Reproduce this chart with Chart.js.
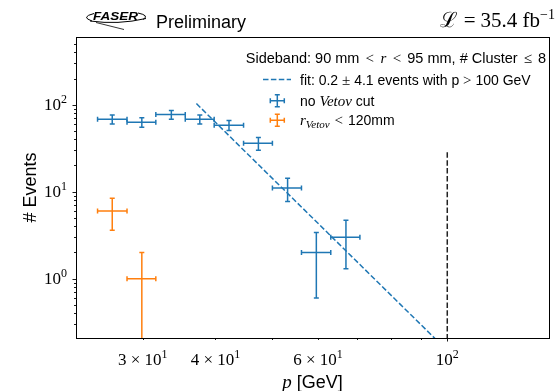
<!DOCTYPE html>
<html>
<head>
<meta charset="utf-8">
<script src="https://cdn.jsdelivr.net/npm/chart.js@4.4.1/dist/chart.umd.min.js"></script>
<style>
  html, body { margin: 0; padding: 0; background: #fff; }
  canvas { display: block; }
</style>
</head>
<body>
<canvas id="sidebandChart" width="557" height="391"></canvas>
<script>
// Momentum bins (GeV)
const binLow    = [25.1, 28.2, 31.6, 35.5, 39.8, 44.7, 50.1, 56.2, 63.1];
const binHigh   = [28.2, 31.6, 35.5, 39.8, 44.7, 50.1, 56.2, 63.1, 70.8];
const binCenter = [26.6, 29.9, 33.6, 37.6, 42.2, 47.4, 53.2, 59.6, 67.0];

// Events without the veto cut
const countsNoCut = [68, 63, 77, 68, 58, 36, 11, 2, 3];
const errNoCut    = [8.2, 7.9, 8.8, 8.2, 7.6, 6.0, 3.3, 1.4, 1.7];

// Events with r_Veto < 120 mm (first two bins only)
const countsRCut = [6, 1];
const errRCut    = [2.4, 1.0];

// Fit line (end points)
const fitP = [37.1, 100];
const fitN = [103, 0.149];

// p = 100 GeV marker line
const cutP = [100, 100];
const cutN = [0.2, 30];

// Tick labels: [mantissa text, exponent]
const xTickValues = [30, 40, 60, 100];
const xTickLabels = [["3 \u00d7 10", "1"], ["4 \u00d7 10", "1"], ["6 \u00d7 10", "1"], ["10", "2"]];
const yTickValues = [1, 10, 100];
const yTickLabels = [["10", "0"], ["10", "1"], ["10", "2"]];

const BLUE = "#1f77b4";
const ORANGE = "#ff7f0e";
const SANS = "'Liberation Sans', Arial, sans-serif";
const SERIF = "'Liberation Serif', 'DejaVu Serif', serif";

function errorPoints(idx, counts, errs) {
    return counts.map((n, i) => ({
        x: binCenter[idx[i]], y: n,
        xMin: binLow[idx[i]], xMax: binHigh[idx[i]],
        yMin: n - errs[i], yMax: n + errs[i]
    }));
}

// Write a row of text pieces with different fonts. piece = [text, font, dy, extra space on both sides]
function drawRuns(ctx, runs, x, y, align) {
    let w = 0;
    runs.forEach(r => { ctx.font = r[1]; w += ctx.measureText(r[0]).width + 2 * (r[3] || 0); });
    let cx = x;
    if (align === "right") cx = x - w;
    if (align === "center") cx = x - w / 2;
    ctx.textAlign = "left";
    ctx.textBaseline = "alphabetic";
    runs.forEach(r => {
        ctx.font = r[1];
        cx += r[3] || 0;
        ctx.fillText(r[0], cx, y + (r[2] || 0));
        cx += ctx.measureText(r[0]).width + (r[3] || 0);
    });
}

// Cross with caps, used for data points and legend handles
function drawCross(ctx, x, y, x0, x1, y0, y1, cap, bottomCap) {
    ctx.beginPath();
    ctx.moveTo(x0, y); ctx.lineTo(x1, y);
    ctx.moveTo(x, y0); ctx.lineTo(x, y1);
    ctx.moveTo(x0, y - cap); ctx.lineTo(x0, y + cap);
    ctx.moveTo(x1, y - cap); ctx.lineTo(x1, y + cap);
    ctx.moveTo(x - cap, y1); ctx.lineTo(x + cap, y1);
    if (bottomCap) { ctx.moveTo(x - cap, y0); ctx.lineTo(x + cap, y0); }
    ctx.stroke();
}

const errorBars = {
    id: "errorBars",
    afterDatasetsDraw(chart) {
        const ctx = chart.ctx, xs = chart.scales.x, ys = chart.scales.y, a = chart.chartArea;
        ctx.save();
        ctx.beginPath();
        ctx.rect(a.left, a.top, a.right - a.left, a.bottom - a.top);
        ctx.clip();
        chart.data.datasets.forEach(ds => {
            if (!ds.errorBars) return;
            ctx.strokeStyle = ds.borderColor;
            ctx.lineWidth = 1.5;
            ds.data.forEach(p => {
                const px = xs.getPixelForValue(p.x), py = ys.getPixelForValue(p.y);
                const lowOk = p.yMin > ys.min;
                const y0 = lowOk ? ys.getPixelForValue(p.yMin) : a.bottom + 2;
                drawCross(ctx, px, py,
                    xs.getPixelForValue(p.xMin), xs.getPixelForValue(p.xMax),
                    y0, ys.getPixelForValue(p.yMax), 2.5, lowOk);
            });
        });
        ctx.restore();
    }
};

// Frame, tick marks and tick labels
const axesDecor = {
    id: "axesDecor",
    afterDraw(chart) {
        const ctx = chart.ctx, xs = chart.scales.x, ys = chart.scales.y, a = chart.chartArea;
        ctx.save();
        ctx.strokeStyle = "#000";
        ctx.lineWidth = 1;
        ctx.beginPath();
        ctx.moveTo(a.left, a.top + 0.5); ctx.lineTo(a.right + 0.5, a.top + 0.5);
        ctx.moveTo(a.right + 0.5, a.top); ctx.lineTo(a.right + 0.5, a.bottom);
        ctx.stroke();

        ctx.lineWidth = 0.9;
        ctx.beginPath();
        for (let e = 0; e <= 3; e++) {
            for (let k = 1; k <= 9; k++) {
                const v = k * Math.pow(10, e);
                const len = k === 1 ? 3.5 : 2;
                if (v > xs.min && v < xs.max) {
                    const px = Math.round(xs.getPixelForValue(v)) + 0.5;
                    ctx.moveTo(px, a.bottom); ctx.lineTo(px, a.bottom + len);
                }
            }
        }
        for (let e = -1; e <= 3; e++) {
            for (let k = 1; k <= 9; k++) {
                const v = k * Math.pow(10, e);
                const len = k === 1 ? 3.5 : 2;
                if (v > ys.min && v < ys.max) {
                    const py = Math.round(ys.getPixelForValue(v)) + 0.5;
                    ctx.moveTo(a.left, py); ctx.lineTo(a.left - len, py);
                }
            }
        }
        ctx.stroke();

        ctx.fillStyle = "#000";
        xTickValues.forEach((v, i) => {
            const px = xs.getPixelForValue(v);
            drawRuns(ctx, [[xTickLabels[i][0], "17px " + SERIF], [xTickLabels[i][1], "12px " + SERIF, -7]],
                px, a.bottom + 27, "center");
        });
        yTickValues.forEach((v, i) => {
            const py = ys.getPixelForValue(v);
            drawRuns(ctx, [[yTickLabels[i][0], "17px " + SERIF], [yTickLabels[i][1], "12px " + SERIF, -7]],
                a.left - 9, py + 5, "right");
        });

        // axis titles
        drawRuns(ctx, [["p", "italic 19px " + SERIF], [" [GeV]", "18px " + SANS]],
            (a.left + a.right) / 2, 388, "center");
        ctx.save();
        ctx.translate(36, (a.top + a.bottom) / 2);
        ctx.rotate(-Math.PI / 2);
        drawRuns(ctx, [["# Events", "18px " + SANS]], 0, 0, "center");
        ctx.restore();
        ctx.restore();
    }
};

// Legend in the upper right corner of the plot
const legendBox = {
    id: "legendBox",
    afterDraw(chart) {
        const ctx = chart.ctx;
        const ft = "14.5px " + SANS;
        const f = "14px " + SANS, m = "15px " + SERIF, mi = "italic 15px " + SERIF;
        ctx.save();
        ctx.fillStyle = "#000";
        drawRuns(ctx, [["Sideband: 90 mm ", ft], ["<", m, 0, 2], [" ", ft], ["r", mi, 0, 0.5], [" ", ft], ["<", m, 0, 2],
            [" 95 mm, # Cluster ", ft], ["\u2264", m, 0, 2], [" 8", ft]], 546, 62.5, "right");

        // fit handle
        ctx.strokeStyle = BLUE;
        ctx.lineWidth = 1.5;
        ctx.setLineDash([5.5, 2.4]);
        ctx.beginPath(); ctx.moveTo(263, 79.5); ctx.lineTo(291, 79.5); ctx.stroke();
        ctx.setLineDash([]);
        drawRuns(ctx, [["fit: 0.2 ", f], ["\u00b1", m], [" 4.1 events with p ", f], [">", m], [" 100 GeV", f]],
            300, 84.5, "left");

        // error bar handles
        drawCross(ctx, 277.3, 100.7, 270.3, 284.3, 106.7, 94.7, 2.5, true);
        drawRuns(ctx, [["no ", f], ["Veto\u03bd", mi], [" cut", f]], 300, 105.5, "left");
        ctx.strokeStyle = ORANGE;
        drawCross(ctx, 277.3, 120.3, 270.3, 284.3, 126.3, 114.3, 2.5, true);
        drawRuns(ctx, [["r", mi], ["Veto\u03bd", "italic 11px " + SERIF, 3], [" ", f], ["<", m, 0, 1], [" 120mm", f]],
            300, 124.5, "left");
        ctx.restore();
    }
};

// Header: experiment logo, "Preliminary" and luminosity
const header = {
    id: "header",
    afterDraw(chart) {
        const ctx = chart.ctx;
        ctx.save();
        ctx.fillStyle = "#000";
        ctx.strokeStyle = "#000";

        // FASER logo
        ctx.save();
        ctx.translate(93, 19.5);
        ctx.scale(1.35, 1);
        ctx.font = "bold italic 10px " + SANS;
        ctx.textBaseline = "alphabetic";
        ctx.fillText("FASER", 0, 0);
        ctx.restore();
        ctx.lineWidth = 1;
        ctx.beginPath();
        ctx.moveTo(94, 13.5); ctx.quadraticCurveTo(80, 17, 92, 21);
        ctx.moveTo(90, 21); ctx.quadraticCurveTo(118, 25, 146, 18.5);
        ctx.moveTo(138, 13); ctx.quadraticCurveTo(150, 15.5, 143, 19.5);
        ctx.stroke();
        ctx.lineWidth = 0.8;
        ctx.beginPath();
        ctx.moveTo(96, 22.5); ctx.quadraticCurveTo(110, 26, 124, 29.5);
        ctx.stroke();

        drawRuns(ctx, [["Preliminary", "18px " + SANS]], 156, 28.3, "left");
        drawRuns(ctx, [["\u2112", "21px " + SERIF, 0, 1], ["=", "21px " + SERIF, 0, 5], ["35.4 fb", "21px " + SERIF],
            ["\u22121", "14px " + SERIF, -8]], 555, 26.7, "right");
        ctx.restore();
    }
};

const canvas = document.getElementById("sidebandChart");

const sidebandChart = new Chart(canvas.getContext("2d"), {
    type: "scatter",
    data: {
        datasets: [
            {
                label: "no Veto cut",
                data: errorPoints([0, 1, 2, 3, 4, 5, 6, 7, 8], countsNoCut, errNoCut),
                borderColor: BLUE,
                backgroundColor: BLUE,
                pointRadius: 0,
                errorBars: true
            },
            {
                label: "r_Veto < 120mm",
                data: errorPoints([0, 1], countsRCut, errRCut),
                borderColor: ORANGE,
                backgroundColor: ORANGE,
                pointRadius: 0,
                errorBars: true
            },
            {
                type: "line",
                label: "fit",
                data: fitP.map((p, i) => ({ x: p, y: fitN[i] })),
                borderColor: BLUE,
                borderWidth: 1.5,
                borderDash: [5.5, 2.4],
                pointRadius: 0,
                fill: false
            },
            {
                type: "line",
                label: "p = 100 GeV",
                data: cutP.map((p, i) => ({ x: p, y: cutN[i] })),
                borderColor: "#222",
                borderWidth: 1.5,
                borderDash: [5.5, 2.4],
                pointRadius: 0,
                fill: false
            }
        ]
    },
    options: {
        responsive: false,
        animation: false,
        devicePixelRatio: 1,
        layout: { padding: { left: 76, right: 8, top: 37, bottom: 53 } },
        plugins: { legend: { display: false }, tooltip: { enabled: false } },
        scales: {
            x: {
                type: "logarithmic",
                min: 23.05,
                max: 149.5,
                grid: { display: false, drawTicks: false },
                ticks: { display: false },
                border: { display: true, color: "#000", width: 1 }
            },
            y: {
                type: "logarithmic",
                min: 0.208,
                max: 600,
                grid: { display: false, drawTicks: false },
                ticks: { display: false },
                border: { display: true, color: "#000", width: 1 }
            }
        }
    },
    plugins: [errorBars, axesDecor, legendBox, header]
});
</script>
</body>
</html>
